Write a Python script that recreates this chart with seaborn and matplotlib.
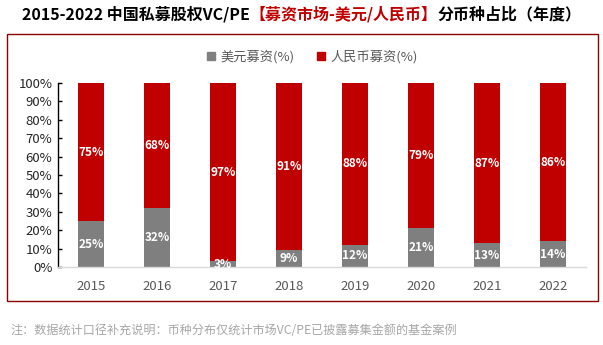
import matplotlib
matplotlib.use("Agg")
import matplotlib.pyplot as plt
import seaborn as sns
import pandas as pd
from matplotlib.patches import Rectangle
from matplotlib.lines import Line2D

years = ["2015", "2016", "2017", "2018", "2019", "2020", "2021", "2022"]
usd_share = [25, 32, 3, 9, 12, 21, 13, 14]
rmb_share = [75, 68, 97, 91, 88, 79, 87, 86]
series_names = ["美元募资(%)", "人民币募资(%)"]
y_ticks = list(range(0, 101, 10))

sns.set_theme(style="white")
plt.rcParams["font.family"] = ["Noto Sans CJK SC", "DejaVu Sans"]

GRAY = "#7F7F7F"
RED = "#C00000"

df = pd.DataFrame({"year": years, "usd": usd_share, "rmb": rmb_share})
df["total"] = df["usd"] + df["rmb"]

W, H = 603, 345
fig = plt.figure(figsize=(W / 100, H / 100), dpi=100)
ax = fig.add_axes([58 / W, 1 - 267 / H, (586 - 58) / W, (267 - 83) / H])

sns.barplot(data=df, x="year", y="total", order=years, color=RED, saturation=1,
            width=0.39, ax=ax, linewidth=0)
sns.barplot(data=df, x="year", y="usd", order=years, color=GRAY, saturation=1,
            width=0.39, ax=ax, linewidth=0)

for i, (u, r) in enumerate(zip(usd_share, rmb_share)):
    ax.text(i, u / 2, f"{u}%", ha="center", va="center", color="white",
            fontsize=8.5, fontweight="bold")
    ax.text(i, u + r / 2, f"{r}%", ha="center", va="center", color="white",
            fontsize=8.5, fontweight="bold")

ax.set_xlim(-0.5, len(years) - 0.5)
ax.set_ylim(0, 100)
ax.set_yticks(y_ticks)
ax.set_yticklabels([f"{t}%" for t in y_ticks], fontsize=9.5, color="#262626")
ax.tick_params(axis="y", direction="in", length=3, width=1, color="black", pad=4, left=True)
ax.tick_params(axis="x", length=0, pad=9, labelsize=9.5, labelcolor="#595959")
ax.set_xlabel("")
ax.set_ylabel("")
for s in ["top", "right"]:
    ax.spines[s].set_visible(False)
ax.spines["left"].set_color("black")
ax.spines["left"].set_linewidth(1)
ax.spines["bottom"].set_color("#D9D9D9")
ax.spines["bottom"].set_linewidth(1)

# legend
handles = [Line2D([], [], marker="s", linestyle="", color=GRAY, markersize=6),
           Line2D([], [], marker="s", linestyle="", color=RED, markersize=6)]
fig.legend(handles, series_names, loc="center", bbox_to_anchor=(312 / W, 1 - 57 / H),
           ncol=2, frameon=False, fontsize=9.5, handlelength=0.8, handletextpad=0.3,
           columnspacing=1.6, labelcolor="#595959")

# frame box
fig.patches.append(Rectangle((7 / W, 1 - 301 / H), (598 - 7) / W, (301 - 34) / H,
                             transform=fig.transFigure, fill=False,
                             edgecolor="#8B0000", linewidth=1))

# title in pieces
ty = 1 - 14 / H
t1 = fig.text(22 / W, ty, "2015-2022 中国私募股权VC/PE", fontsize=11.5,
              fontweight="bold", color="black", va="center", ha="left")
t2 = ax.annotate("【募资市场-美元/人民币】", xy=(1, 0), xycoords=t1,
                 ha="left", va="bottom", fontsize=11.5, fontweight="bold", color=RED,
                 annotation_clip=False)
t3 = ax.annotate("分币种占比（年度）", xy=(1, 0), xycoords=t2,
                 ha="left", va="bottom", fontsize=11.5, fontweight="bold", color="black",
                 annotation_clip=False)

fig.text(10 / W, 1 - 330 / H, "注：数据统计口径补充说明：币种分布仅统计市场VC/PE已披露募集金额的基金案例",
         fontsize=8.7, color="#A6A6A6", va="center", ha="left")

fig.savefig("out.png", dpi=100)
